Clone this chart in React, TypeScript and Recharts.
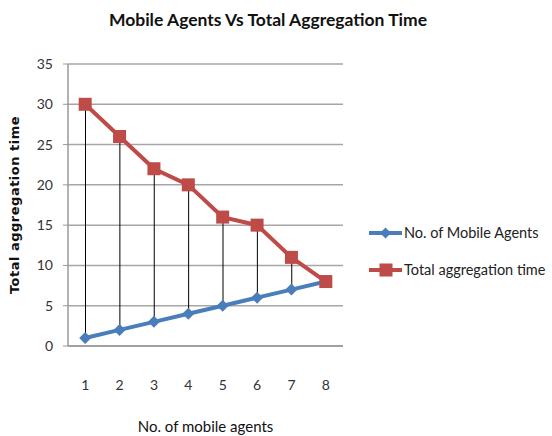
import { Bar, CartesianGrid, ComposedChart, Line, XAxis, YAxis } from "recharts";

const categories = ["1", "2", "3", "4", "5", "6", "7", "8"];
const mobileAgents = [1, 2, 3, 4, 5, 6, 7, 8];
const aggregationTime = [30, 26, 22, 20, 16, 15, 11, 8];
const yTicks = [0, 5, 10, 15, 20, 25, 30, 35];

const BLUE = "#4a7ebb";
const RED = "#be4b48";
const FONT = "Lato, 'Open Sans', sans-serif";

const data = categories.map((c, i) => ({
  n: c,
  agents: mobileAgents[i],
  time: aggregationTime[i],
}));

const Diamond = (props: any) => {
  const { cx, cy } = props;
  if (cx == null || cy == null) return null;
  const r = 6;
  return <path d={`M${cx},${cy - r}L${cx + r},${cy}L${cx},${cy + r}L${cx - r},${cy}Z`} fill={BLUE} />;
};

const Square = (props: any) => {
  const { cx, cy } = props;
  if (cx == null || cy == null) return null;
  return <rect x={cx - 6.5} y={cy - 6.5} width={13} height={13} fill={RED} />;
};

// legend drawn by hand, to the right of the plot
const LegendBox = () => (
  <svg width={190} height={70} style={{ position: "absolute", left: 368, top: 221 }}>
    <line x1={1} y1={12} x2={34} y2={12} stroke={BLUE} strokeWidth={4} />
    <path d="M17.5,6.5L23,12L17.5,17.5L12,12Z" fill={BLUE} />
    <text x={36} y={17} fontSize={14.5} fontFamily={FONT} fill="#222">No. of Mobile Agents</text>
    <line x1={1} y1={49} x2={34} y2={49} stroke={RED} strokeWidth={4} />
    <rect x={11.5} y={42.5} width={13} height={13} fill={RED} />
    <text x={36} y={54} fontSize={14.5} fontFamily={FONT} fill="#222">Total aggregation  time</text>
  </svg>
);

export default function App() {
  return (
    <div style={{ position: "absolute", left: 0, top: 0, width: 552, height: 436, background: "#fff" }}>
      <div
        style={{
          position: "absolute",
          left: 0,
          width: 536,
          top: 9,
          textAlign: "center",
          fontFamily: FONT,
          fontWeight: 700,
          fontSize: 17.5,
          color: "#111",
        }}
      >
        Mobile Agents Vs Total Aggregation Time
      </div>
      <ComposedChart
        width={552}
        height={436}
        data={data}
        margin={{ top: 64, right: 209, bottom: 60, left: 28 }}
      >
        <CartesianGrid vertical={false} stroke="#a6a6a6" strokeWidth={1.5} />
        <XAxis
          dataKey="n"
          height={30}
          interval={0}
          tickLine={false}
          axisLine={{ stroke: "#999", strokeWidth: 1.5 }}
          tickMargin={28}
          tick={{ fontSize: 14, fontFamily: FONT, fill: "#333" }}
          label={{
            value: "No. of mobile agents",
            position: "insideBottom",
            offset: -56,
            style: { fontSize: 15, fontFamily: FONT, fill: "#111" },
          }}
        />
        <YAxis
          width={40}
          domain={[0, 35]}
          ticks={yTicks}
          tickSize={5}
          tickLine={{ stroke: "#999" }}
          axisLine={{ stroke: "#999", strokeWidth: 1.5 }}
          tickMargin={10}
          tick={{ fontSize: 14, fontFamily: FONT, fill: "#333" }}
          label={{
            value: "Total aggregation  time",
            angle: -90,
            position: "insideLeft",
            offset: -14,
            style: {
              textAnchor: "middle",
              fontSize: 13,
              fontWeight: 700,
              letterSpacing: 0.5,
              fontFamily: "'DejaVu Sans', sans-serif",
              fill: "#111",
            },
          }}
        />
        <Bar
          dataKey={(d: any) => [d.agents, d.time]}
          barSize={1}
          fill="#000"
          isAnimationActive={false}
          legendType="none"
        />
        <Line
          dataKey="agents"
          name="No. of Mobile Agents"
          stroke={BLUE}
          strokeWidth={4}
          dot={<Diamond />}
          activeDot={false}
          isAnimationActive={false}
        />
        <Line
          dataKey="time"
          name="Total aggregation  time"
          stroke={RED}
          strokeWidth={4}
          dot={<Square />}
          activeDot={false}
          isAnimationActive={false}
        />
      </ComposedChart>
      <LegendBox />
    </div>
  );
}
